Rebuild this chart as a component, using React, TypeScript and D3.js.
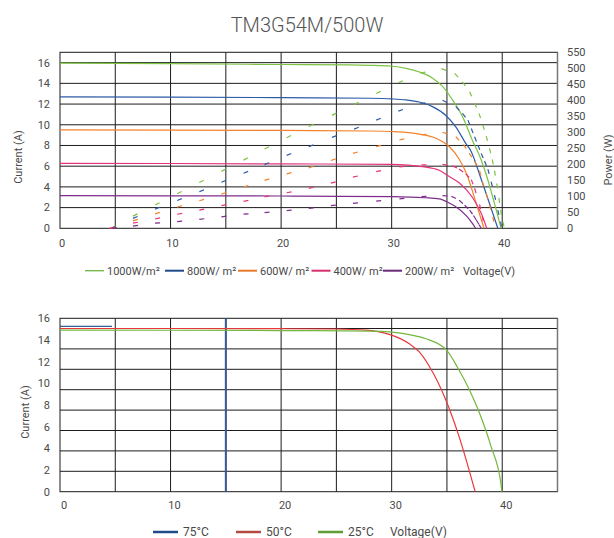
import React from 'react';
import * as d3 from 'd3';

type Pt = [number, number];

// ---------- Top chart data (I-V solid, P-V dashed) ----------
const irrLabels = ['1000W/m²', '800W/ m²', '600W/ m²', '400W/ m²', '200W/ m²'];
const irrColors = ['#7cc243', '#2d5ba8', '#f5822a', '#e6337c', '#7e2d8c'];
const irrLegendColors = ['#6fb443', '#1f4a8c', '#e8792b', '#d52f6c', '#6a2a78'];

const current1000: Pt[] = [[0, 15.95], [10, 15.9], [20, 15.82], [26, 15.78], [28, 15.74], [30, 15.65], [31.3, 15.45], [32.5, 15.1], [33.7, 14.5], [34.6, 13.7], [35.5, 12.4], [36.4, 10.8], [37.3, 8.5], [38.1, 6.6], [38.55, 5.2], [39.3, 2.4], [39.9, 0]];
const current800: Pt[] = [[0, 12.7], [10, 12.68], [20, 12.62], [28, 12.56], [30, 12.5], [31.3, 12.4], [32.5, 12.2], [33.7, 11.75], [34.9, 10.9], [35.8, 9.8], [36.7, 8.2], [37.2, 7.4], [37.5, 6.6], [37.95, 5.2], [38.85, 2.4], [39.6, 0]];
const current600: Pt[] = [[0, 9.5], [10, 9.48], [20, 9.45], [28, 9.4], [30, 9.35], [31.3, 9.27], [32.5, 9.1], [34.0, 8.7], [35.2, 7.9], [36.1, 6.7], [36.8, 5.2], [37.65, 2.4], [38.35, 0]];
const current400: Pt[] = [[0, 6.28], [10, 6.26], [20, 6.22], [30, 6.18], [31.5, 6.1], [32.8, 5.95], [34.3, 5.6], [35.2, 5.0], [36.1, 4.4], [37.3, 3.0], [38.1, 1.45], [38.6, 0]];
const current200: Pt[] = [[0, 3.15], [10, 3.14], [20, 3.12], [30, 3.05], [33, 2.95], [34.3, 2.85], [35.2, 2.45], [35.8, 2.09], [36.7, 1.28], [37.3, 0.48], [37.6, 0]];

const power1000: Pt[] = [[4.7, 0], [6.6, 38], [8.6, 73], [10.6, 108], [12.6, 143], [14.6, 178], [16.6, 213], [18.5, 248], [20.5, 283], [22.5, 318], [24.6, 353], [26.6, 387], [28.6, 421], [30.6, 455], [32.6, 485], [34.5, 499], [35.7, 484], [36.4, 458], [37.05, 427], [37.5, 392], [37.9, 359], [38.25, 323], [38.55, 288], [38.85, 250], [39.1, 215], [39.3, 180], [39.5, 140], [39.7, 95], [39.85, 57], [40.05, 21], [40.2, 0]];
const power800: Pt[] = [[4.6, 0], [6.6, 31], [8.6, 60], [10.6, 87], [12.6, 114], [14.6, 144], [16.6, 172], [18.5, 199], [20.5, 228], [22.5, 255], [24.6, 284], [26.6, 310], [28.6, 338], [30.6, 366], [32.6, 390], [34.6, 400], [35.8, 380], [36.4, 359], [36.9, 338], [37.2, 312], [37.5, 286], [37.8, 260], [38.1, 234], [38.4, 210], [38.7, 185], [39.0, 146], [39.3, 104], [39.6, 57], [39.85, 21], [39.95, 0]];
const power600: Pt[] = [[4.5, 0], [6.6, 23], [8.6, 45], [10.6, 66], [12.6, 86], [14.6, 107], [16.6, 129], [18.5, 150], [20.5, 170], [22.5, 189], [24.5, 212], [26.5, 234], [28.6, 255], [30.7, 276], [32.7, 292], [34.6, 300], [35.8, 286], [36.5, 262], [37.0, 235], [37.5, 210], [37.95, 180], [38.2, 146], [38.55, 109], [38.85, 73], [39.15, 36], [39.35, 0]];
const power400: Pt[] = [[4.5, 0], [6.6, 16], [8.6, 29], [10.6, 44], [12.6, 57], [14.6, 71], [16.6, 84], [18.5, 98], [20.5, 111], [22.5, 125], [24.5, 141], [26.5, 160], [28.6, 177], [30.7, 192], [32.7, 198], [34.6, 200], [35.5, 195], [36.1, 185], [36.7, 170], [37.2, 152], [37.5, 125], [37.95, 75], [38.2, 38], [38.4, 0]];
const power200: Pt[] = [[4.7, 0], [6.6, 7], [8.6, 16], [10.6, 21], [12.6, 28], [14.6, 36], [16.6, 44], [18.5, 49], [20.5, 55], [22.5, 62], [24.5, 71], [26.5, 78], [28.6, 85], [30.7, 92], [32.7, 99], [34.6, 102], [35.4, 100], [36.1, 88], [36.6, 72], [37.05, 57], [37.4, 40], [37.65, 26], [37.9, 12], [38.1, 0]];

const currentSeries = [current1000, current800, current600, current400, current200];
const powerSeries = [power1000, power800, power600, power400, power200];

const xTicks = [0, 10, 20, 30, 40];
const xGrid = [5, 10, 15, 20, 25, 30, 35, 40];
const currentTicks = [0, 2, 4, 6, 8, 10, 12, 14, 16];
const powerTicks = [0, 50, 100, 150, 200, 250, 300, 350, 400, 450, 500, 550];

// ---------- Bottom chart data (temperature) ----------
const tempLabels = ['75°C', '50°C', '25°C'];
const tempColors = ['#3a5a96', '#e8383a', '#72b83f'];
const tempLegendColors = ['#1f4a8c', '#b24a42', '#5e9e32'];
const temp75: Pt[] = [[0, 16.2], [4.7, 16.2]];
const temp75Marker: Pt[] = [[15, 17], [15, 0]];
const temp50: Pt[] = [[0, 16.0], [10, 16.0], [20, 15.98], [25, 15.95], [27.7, 15.85], [29, 15.65], [30, 15.35], [31.6, 14.5], [32.5, 13.7], [33.4, 12.3], [34.9, 9.0], [36.1, 5.4], [37.55, 0]];
const temp25: Pt[] = [[0, 15.85], [10, 15.83], [20, 15.8], [28, 15.75], [30, 15.65], [31.6, 15.4], [33.1, 15.0], [34.95, 13.9], [36.0, 12.1], [37.05, 9.95], [37.95, 7.7], [39.0, 4.4], [39.9, 0.65], [39.97, 0]];

const gridColor = '#1c1c1c';
const textColor = '#4a4a4a';
const font = 'Roboto, "Noto Sans", "DejaVu Sans", sans-serif';

export default function App() {
  const W = 614, H = 538;
  const x = d3.scaleLinear().domain([0, 45]).range([60, 557.5]);

  // top chart
  const tTop = 52.3, tBot = 228.3;
  const yI = d3.scaleLinear().domain([0, 17]).range([tBot, tTop]);
  const yP = d3.scaleLinear().domain([0, 550]).range([tBot, tTop]);
  const lineI = d3.line<Pt>().x(d => x(d[0])).y(d => yI(d[1])).curve(d3.curveMonotoneX);
  const seg = d3.line<Pt>().x(d => x(d[0])).y(d => yP(d[1]));

  // bottom chart
  const bTop = 318.3, bBot = 491.7;
  const yB = d3.scaleLinear().domain([0, 17]).range([bBot, bTop]);
  const yBLabel = d3.scaleLinear().domain([0, 16]).range([bBot, bTop]);
  const lineB = d3.line<Pt>().x(d => x(d[0])).y(d => yB(d[1])).curve(d3.curveMonotoneX);

  const topLegendX = [85, 165, 238, 311.5, 383];
  const bottomLegendX = [153, 236, 318];

  return (
    <svg width={W} height={H} style={{ position: 'absolute', left: 0, top: 0, background: '#fff' }} fontFamily={font}>
      <rect x={0} y={0} width={W} height={H} fill="#fff" />
      <text x={307} y={32} textAnchor="middle" fontSize={20} fill="#555" fontWeight={300}>TM3G54M/500W</text>

      {/* ---------- Top chart ---------- */}
      <g>
        {xGrid.map(v => (
          <line key={'tx' + v} x1={x(v)} x2={x(v)} y1={tTop} y2={tBot} stroke={gridColor} strokeWidth={1} />
        ))}
        {currentTicks.slice(1).map(v => (
          <line key={'ty' + v} x1={x(0)} x2={x(45)} y1={yI(v)} y2={yI(v)} stroke={gridColor} strokeWidth={1} />
        ))}
        <rect x={x(0)} y={tTop} width={x(45) - x(0)} height={tBot - tTop} fill="none" stroke={gridColor} strokeWidth={1} />
        <line x1={x(45)} x2={x(45)} y1={tTop} y2={tBot} stroke="#777" strokeWidth={1.5} />

        {currentSeries.map((s, i) => (
          <path key={'ci' + i} d={lineI(s) || ''} fill="none" stroke={irrColors[i]} strokeWidth={1.2} />
        ))}
        {powerSeries.map((s, i) => (
          <g key={'pw' + i}>
            {s.slice(0, -1).map((p, j) => (
              <path key={j} d={seg([p, s[j + 1]]) || ''} fill="none" stroke={irrColors[i]} strokeWidth={1.2} strokeDasharray="5 200" />
            ))}
          </g>
        ))}

        {currentTicks.map(v => (
          <text key={'tl' + v} x={50} y={yI(v)} dy="0.35em" textAnchor="end" fontSize={11} fill={textColor}>{v}</text>
        ))}
        {powerTicks.map(v => (
          <text key={'tr' + v} x={567} y={yP(v)} dy="0.35em" textAnchor="start" fontSize={11} fill={textColor}>{v}</text>
        ))}
        {xTicks.map(v => (
          <text key={'txl' + v} x={x(v) + 2} y={243} dy="0.35em" textAnchor="middle" fontSize={11} fill={textColor}>{v}</text>
        ))}
        <text transform={`translate(22,157) rotate(-90)`} textAnchor="middle" fontSize={11} fill={textColor}>Current (A)</text>
        <text transform={`translate(612,160) rotate(-90)`} textAnchor="middle" fontSize={11} fill={textColor}>Power (W)</text>

        {irrLabels.map((l, i) => (
          <g key={'lg' + i}>
            <line x1={topLegendX[i]} x2={topLegendX[i] + 19} y1={270.7} y2={270.7} stroke={irrLegendColors[i]} strokeWidth={i === 0 ? 1.3 : 2} />
            <text x={topLegendX[i] + 22} y={274.5} fontSize={11} fill={textColor}>{l}</text>
          </g>
        ))}
        <text x={463} y={274.5} fontSize={11} fill={textColor}>Voltage(V)</text>
      </g>

      {/* ---------- Bottom chart ---------- */}
      <g>
        {xGrid.map(v => (
          <line key={'bx' + v} x1={x(v)} x2={x(v)} y1={bTop} y2={bBot} stroke={gridColor} strokeWidth={1} />
        ))}
        {currentTicks.slice(1).map(v => (
          <line key={'by' + v} x1={x(0)} x2={x(45)} y1={yB(v)} y2={yB(v)} stroke={gridColor} strokeWidth={1} />
        ))}
        <rect x={x(0)} y={bTop} width={x(45) - x(0)} height={bBot - bTop} fill="none" stroke={gridColor} strokeWidth={1} />
        <line x1={x(45)} x2={x(45)} y1={bTop} y2={bBot} stroke="#777" strokeWidth={1.5} />

        <path d={lineB(temp75Marker) || ''} fill="none" stroke={tempColors[0]} strokeWidth={2} />
        <path d={lineB(temp75) || ''} fill="none" stroke={tempColors[0]} strokeWidth={1.2} />
        <path d={lineB(temp50) || ''} fill="none" stroke={tempColors[1]} strokeWidth={1.2} />
        <path d={lineB(temp25) || ''} fill="none" stroke={tempColors[2]} strokeWidth={1.2} />

        {currentTicks.map(v => (
          <text key={'bl' + v} x={50} y={yBLabel(v)} dy="0.35em" textAnchor="end" fontSize={11} fill={textColor}>{v}</text>
        ))}
        {xTicks.map(v => (
          <text key={'bxl' + v} x={x(v) + 4} y={505} dy="0.35em" textAnchor="middle" fontSize={11} fill={textColor}>{v}</text>
        ))}
        <text transform={`translate(29,412) rotate(-90)`} textAnchor="middle" fontSize={11} fill={textColor}>Current (A)</text>

        {tempLabels.map((l, i) => (
          <g key={'bg' + i}>
            <line x1={bottomLegendX[i]} x2={bottomLegendX[i] + 25} y1={532} y2={532} stroke={tempLegendColors[i]} strokeWidth={2.5} />
            <text x={bottomLegendX[i] + 30} y={535.5} fontSize={12} fill={textColor}>{l}</text>
          </g>
        ))}
        <text x={390} y={535.5} fontSize={12} fill={textColor}>Voltage(V)</text>
      </g>
    </svg>
  );
}
